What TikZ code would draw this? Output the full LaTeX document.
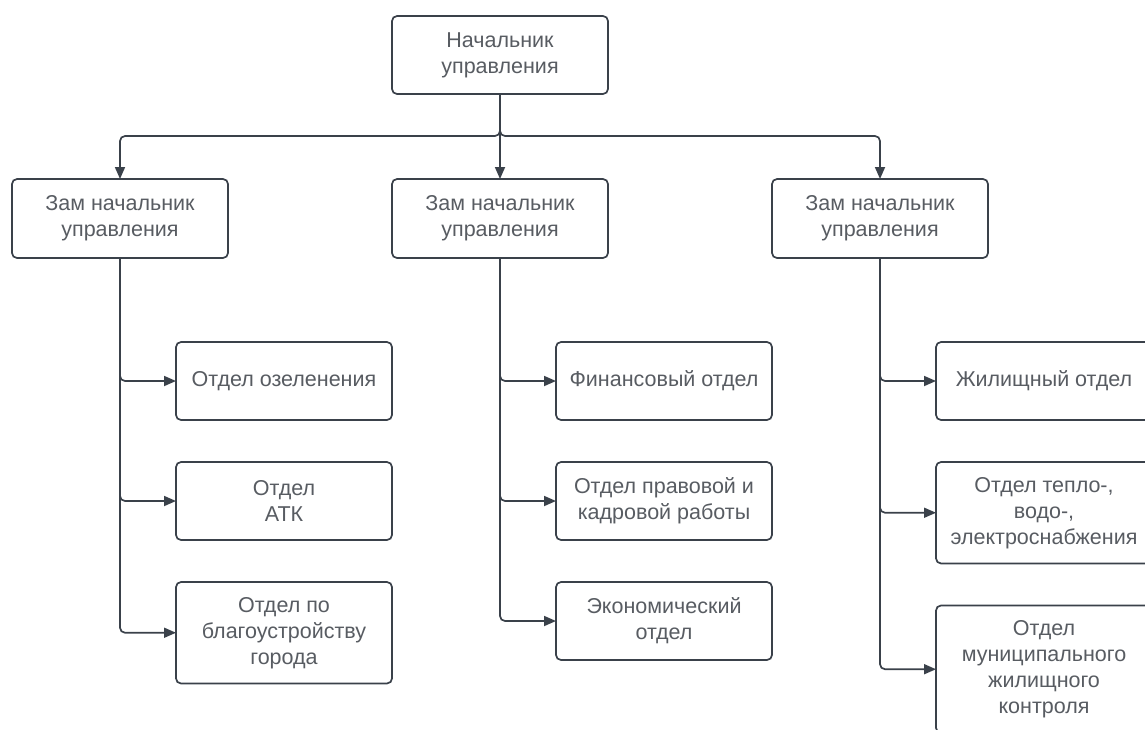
\documentclass[tikz,border=0pt]{standalone}
\usepackage{fontspec}
\setmainfont{Liberation Sans}
\usepackage{tikz}
\usetikzlibrary{positioning}
\usetikzlibrary{arrows.meta}
\definecolor{lnc}{RGB}{58,65,74}
\definecolor{txc}{RGB}{88,92,98}

\begin{document}
\begin{tikzpicture}[
      orgbox/.style={draw=lnc,line width=1.7pt,rounded corners=5pt,fill=white,text=txc,
        minimum width=216pt,minimum height=78pt,align=center,inner xsep=6pt,inner ysep=15pt,
        outer sep=0pt,font=\fontsize{21.5}{26}\selectfont},
      orglink/.style={draw=lnc,line width=1.7pt,rounded corners=5pt,-{Triangle[length=12pt,width=10pt]}}
    ]
    \useasboundingbox (0,0) rectangle (1145pt,-729pt);

    \node[orgbox] (chief) at (500pt,-55pt) {Начальник\\управления};
    \node[orgbox,minimum height=79pt] (depL) at (120pt,-218.5pt) {Зам начальник\\управления};
    \node[orgbox,minimum height=79pt] (depM) at (500pt,-218.5pt) {Зам начальник\\управления};
    \node[orgbox,minimum height=79pt] (depR) at (880pt,-218.5pt) {Зам начальник\\управления};

    \node[orgbox,below right=84pt and 164pt of depL.south west] (greenL) {Отдел озеленения};
    \node[orgbox,below=42pt of greenL] (atkL)     {Отдел\\АТК};
    \node[orgbox,below=42pt of atkL]   (cityL)    {Отдел по\\благоустройству\\города};

    \node[orgbox,below right=84pt and 164pt of depM.south west] (finM) {Финансовый отдел};
    \node[orgbox,below=42pt of finM]   (lawM)     {Отдел правовой и\\кадровой работы};
    \node[orgbox,below=42pt of lawM]   (ecoM)     {Экономический\\отдел};

    \node[orgbox,below right=84pt and 164pt of depR.south west] (houseR) {Жилищный отдел};
    \node[orgbox,below=42pt of houseR] (heatR)    {Отдел тепло-,\\водо-,\\электроснабжения};
    \node[orgbox,below=42pt of heatR]  (ctrlR)    {Отдел\\муниципального\\жилищного\\контроля};

    \coordinate[below=42pt of chief.south] (hub);
    \path[orglink] (chief.south) -- (hub) -| (depL.north);
    \path[orglink] (chief.south) -- (depM.north);
    \path[orglink] (chief.south) -- (hub) -| (depR.north);

    \path[orglink] (depL.south) |- (greenL.west);
    \path[orglink] (depL.south) |- (atkL.west);
    \path[orglink] (depL.south) |- (cityL.west);
    \path[orglink] (depM.south) |- (finM.west);
    \path[orglink] (depM.south) |- (lawM.west);
    \path[orglink] (depM.south) |- (ecoM.west);
    \path[orglink] (depR.south) |- (houseR.west);
    \path[orglink] (depR.south) |- (heatR.west);
    \path[orglink] (depR.south) |- (ctrlR.west);
  \end{tikzpicture}
\end{document}
